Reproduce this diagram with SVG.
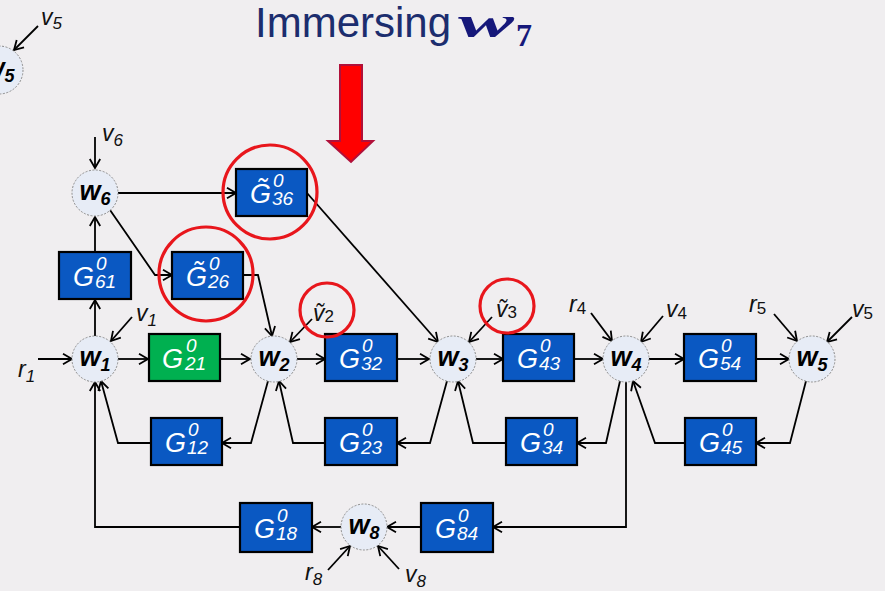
<svg xmlns="http://www.w3.org/2000/svg" width="885" height="591" viewBox="0 0 885 591">
<defs>
<marker id="ah" markerUnits="userSpaceOnUse" markerWidth="14" markerHeight="14" refX="10" refY="6" orient="auto" overflow="visible">
<path d="M1,0.8 L10,6 L1,11.2" fill="none" stroke="#000" stroke-width="1.8"/>
</marker>
<style>
.node circle{fill:#e7ecf6;stroke:#8c8c8c;stroke-width:1;stroke-dasharray:2 1.5}
.nl{font-family:"Liberation Sans",Arial,sans-serif;font-weight:bold;font-style:italic;font-size:27px;fill:#000;text-anchor:middle}
.nl .s{font-size:18px}
.box rect{fill:#0a58c2;stroke:#000;stroke-width:2.2}
.box.green rect{fill:#00b050}
.gl{font-family:"Liberation Sans","DejaVu Sans",Arial,sans-serif;font-style:italic;font-size:27px;fill:#fff}
.gl .d{font-size:19px}
.ring{fill:none;stroke:#e8161c;stroke-width:3.2}
.conn path{fill:none;stroke:#000;stroke-width:1.8;marker-end:url(#ah)}
.lab{font-family:"Liberation Sans","DejaVu Sans",Arial,sans-serif;font-style:italic;font-size:23px;fill:#111}
.lab .s{font-size:17px}
.title{font-family:"Liberation Sans",Arial,sans-serif;font-size:42px;fill:#1c2d6e}
.math{font-family:"Liberation Serif","DejaVu Serif",serif;font-weight:bold;fill:#16187a}
</style>
</defs>
<rect width="885" height="591" fill="#f0eef0"/>

<g id="title">
<text class="title" x="255" y="37">Immersing</text>
<text class="math" x="458" y="37" font-style="italic" font-size="44" textLength="56" lengthAdjust="spacingAndGlyphs">w</text>
<text class="math" x="516" y="46" font-size="32">7</text>
</g>

<g id="red-arrow">
<path d="M340,65 L362,65 L362,141 L373,141 L351,162 L328,141 L340,141 Z" fill="#ff0000" stroke="#b0103a" stroke-width="2"/>
</g>

<g id="connectors" class="conn">
<path d="M38,26 L14,50"/>
<path d="M95,137 L95,168"/>
<path d="M38,359 L72,359"/>
<path d="M132,317 L111,341"/>
<path d="M118,359 L148,359"/>
<path d="M220,359 L250,359"/>
<path d="M297,359 L325,359"/>
<path d="M397,359 L429,359"/>
<path d="M476,359 L503,359"/>
<path d="M574,359 L603,359"/>
<path d="M649,359 L684,359"/>
<path d="M756,359 L789,359"/>
<path d="M95,336 L95,300"/>
<path d="M95,252 L95,217"/>
<path d="M118,193 L236,193"/>
<path d="M110,210 L155,275 L172,275"/>
<path d="M243,275 L258,275 L272,336"/>
<path d="M307,193 L438,342"/>
<path d="M312,319 L290,342"/>
<path d="M492,317 L469,342"/>
<path d="M591,313 L612,341"/>
<path d="M663,316 L641,342"/>
<path d="M774,314 L797,341"/>
<path d="M852,317 L827,342"/>
<path d="M268,381 L251,443 L222,443"/>
<path d="M151,443 L118,443 L101,381"/>
<path d="M447,381 L430,443 L397,443"/>
<path d="M325,443 L293,443 L279,381"/>
<path d="M620,381 L606,443 L577,443"/>
<path d="M506,443 L473,443 L458,381"/>
<path d="M806,381 L790,443 L756,443"/>
<path d="M685,443 L655,443 L633,381"/>
<path d="M626,382 L626,527 L493,527"/>
<path d="M421,527 L387,527"/>
<path d="M341,527 L312,527"/>
<path d="M240,527 L95,527 L95,382"/>
<path d="M328,570 L350,546"/>
<path d="M399,569 L378,546"/>
</g>

<g id="labels">
<text class="lab" x="41" y="25">v<tspan class="s" dy="4">5</tspan></text>
<text class="lab" x="102" y="141">v<tspan class="s" dy="5">6</tspan></text>
<text class="lab" x="18" y="377">r<tspan class="s" dy="5">1</tspan></text>
<text class="lab" x="136" y="321">v<tspan class="s" dy="5">1</tspan></text>
<text class="lab" x="313" y="321">ṽ<tspan class="s" dy="1" font-style="normal">2</tspan></text>
<text class="lab" x="496" y="317">ṽ<tspan class="s" dy="1" font-style="normal">3</tspan></text>
<text class="lab" x="569" y="312">r<tspan class="s" dy="2" font-style="normal">4</tspan></text>
<text class="lab" x="666" y="317">v<tspan class="s" dy="2" font-style="normal">4</tspan></text>
<text class="lab" x="749" y="312">r<tspan class="s" dy="2" font-style="normal">5</tspan></text>
<text class="lab" x="852" y="317">v<tspan class="s" dy="2" font-style="normal">5</tspan></text>
<text class="lab" x="305" y="580">r<tspan class="s" dy="5">8</tspan></text>
<text class="lab" x="405" y="582">v<tspan class="s" dy="5">8</tspan></text>
</g>

<g id="node-w5a" class="node"><circle cx="-1" cy="70" r="24"/><text class="nl" x="-1" y="77">w<tspan class="s" dy="5">5</tspan></text></g>
<g id="node-w6" class="node"><circle cx="95" cy="193" r="23"/><text class="nl" x="95" y="200">w<tspan class="s" dy="5">6</tspan></text></g>
<g id="node-w1" class="node"><circle cx="95" cy="359" r="23"/><text class="nl" x="95" y="366">w<tspan class="s" dy="5">1</tspan></text></g>
<g id="node-w2" class="node"><circle cx="274" cy="359" r="23"/><text class="nl" x="274" y="366">w<tspan class="s" dy="5">2</tspan></text></g>
<g id="node-w3" class="node"><circle cx="453" cy="359" r="23"/><text class="nl" x="453" y="366">w<tspan class="s" dy="5">3</tspan></text></g>
<g id="node-w4" class="node"><circle cx="626" cy="359" r="23"/><text class="nl" x="626" y="366">w<tspan class="s" dy="5">4</tspan></text></g>
<g id="node-w5" class="node"><circle cx="812" cy="359" r="23"/><text class="nl" x="812" y="366">w<tspan class="s" dy="5">5</tspan></text></g>
<g id="node-w8" class="node"><circle cx="364" cy="527" r="23"/><text class="nl" x="364" y="534">w<tspan class="s" dy="5">8</tspan></text></g>

<g id="box-G61" class="box"><rect x="59" y="252" width="72" height="47"/><text class="gl" x="73" y="286">G<tspan class="d" x="96" y="270">0</tspan><tspan class="d" x="95" y="288">61</tspan></text></g>
<g id="box-G36" class="box"><rect x="236" y="169" width="71" height="47"/><text class="gl" x="250" y="203">G̃<tspan class="d" x="273" y="187">0</tspan><tspan class="d" x="272" y="205">36</tspan></text></g>
<g id="box-G26" class="box"><rect x="172" y="252" width="71" height="47"/><text class="gl" x="186" y="286">G̃<tspan class="d" x="209" y="270">0</tspan><tspan class="d" x="208" y="288">26</tspan></text></g>
<g id="box-G21" class="box green"><rect x="149" y="334" width="71" height="47"/><text class="gl" x="162" y="368">G<tspan class="d" x="186" y="352">0</tspan><tspan class="d" x="185" y="370">21</tspan></text></g>
<g id="box-G32" class="box"><rect x="325" y="334" width="72" height="47"/><text class="gl" x="339" y="368">G<tspan class="d" x="362" y="352">0</tspan><tspan class="d" x="361" y="370">32</tspan></text></g>
<g id="box-G43" class="box"><rect x="503" y="334" width="71" height="47"/><text class="gl" x="517" y="368">G<tspan class="d" x="540" y="352">0</tspan><tspan class="d" x="539" y="370">43</tspan></text></g>
<g id="box-G54" class="box"><rect x="684" y="334" width="72" height="47"/><text class="gl" x="698" y="368">G<tspan class="d" x="721" y="352">0</tspan><tspan class="d" x="720" y="370">54</tspan></text></g>
<g id="box-G12" class="box"><rect x="151" y="418" width="71" height="47"/><text class="gl" x="165" y="452">G<tspan class="d" x="188" y="436">0</tspan><tspan class="d" x="187" y="454">12</tspan></text></g>
<g id="box-G23" class="box"><rect x="325" y="418" width="72" height="47"/><text class="gl" x="339" y="452">G<tspan class="d" x="362" y="436">0</tspan><tspan class="d" x="361" y="454">23</tspan></text></g>
<g id="box-G34" class="box"><rect x="506" y="418" width="71" height="47"/><text class="gl" x="520" y="452">G<tspan class="d" x="543" y="436">0</tspan><tspan class="d" x="542" y="454">34</tspan></text></g>
<g id="box-G45" class="box"><rect x="685" y="418" width="71" height="47"/><text class="gl" x="699" y="452">G<tspan class="d" x="722" y="436">0</tspan><tspan class="d" x="721" y="454">45</tspan></text></g>
<g id="box-G18" class="box"><rect x="240" y="503" width="72" height="49"/><text class="gl" x="254" y="538">G<tspan class="d" x="277" y="522">0</tspan><tspan class="d" x="276" y="540">18</tspan></text></g>
<g id="box-G84" class="box"><rect x="421" y="503" width="72" height="49"/><text class="gl" x="435" y="538">G<tspan class="d" x="458" y="522">0</tspan><tspan class="d" x="457" y="540">84</tspan></text></g>

<g id="highlights">
<circle class="ring" cx="270" cy="192" r="47"/>
<circle class="ring" cx="206" cy="274" r="47"/>
<circle class="ring" cx="327" cy="310" r="27"/>
<circle class="ring" cx="507" cy="306" r="27"/>
</g>
</svg>
